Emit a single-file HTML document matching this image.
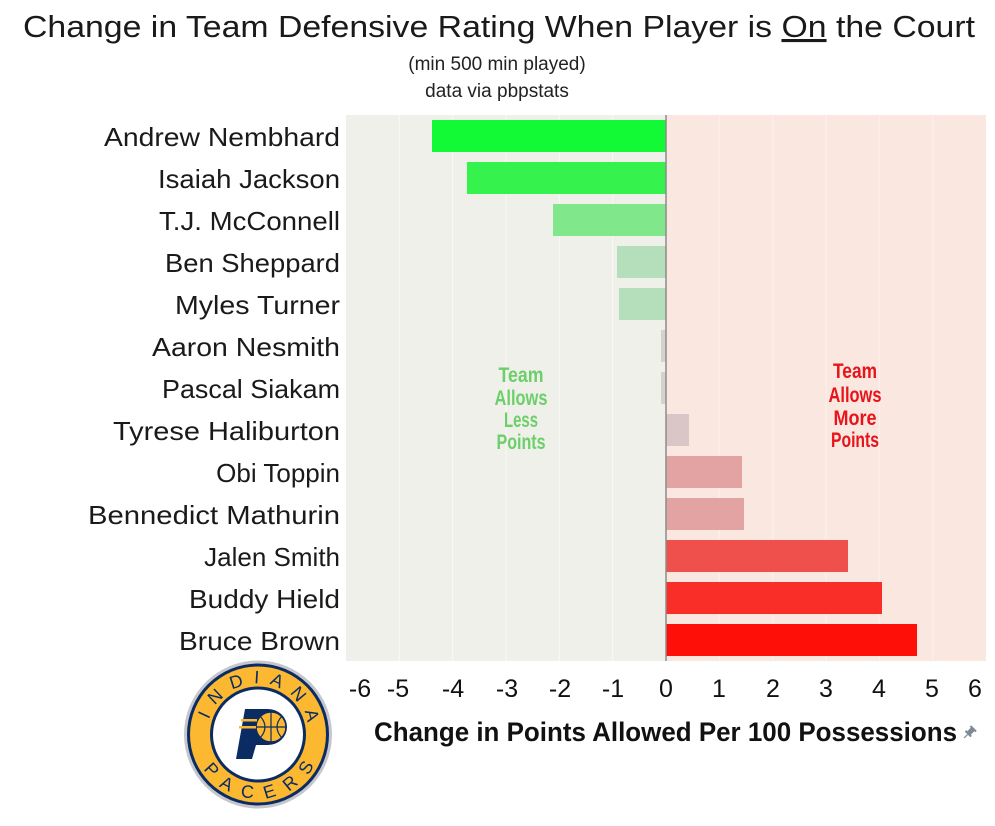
<!DOCTYPE html>
<html><head><meta charset="utf-8"><style>
html,body{margin:0;padding:0;background:#fff;}
svg{display:block;}
text{font-family:"Liberation Sans",sans-serif;}
</style></head><body>
<svg width="995" height="826" viewBox="0 0 995 826" xmlns="http://www.w3.org/2000/svg">
<rect width="995" height="826" fill="#fff"/>
<!-- Title -->
<text x="23" y="37" font-size="31" fill="#1a1a1a" textLength="952" lengthAdjust="spacingAndGlyphs">Change in Team Defensive Rating When Player is <tspan text-decoration="underline">On</tspan> the Court</text>
<text x="497" y="70" font-size="19" fill="#222" text-anchor="middle">(min 500 min played)</text>
<text x="497" y="97" font-size="19" fill="#222" text-anchor="middle">data via pbpstats</text>

<!-- Plot backgrounds -->
<rect x="346" y="115" width="320" height="546" fill="#f0f0ea"/>
<rect x="666" y="115" width="320" height="546" fill="#f9e7e0"/>
<g stroke-width="1.2">
<line x1="399.3" y1="115" x2="399.3" y2="661" stroke="#f7f7f3"/>
<line x1="452.7" y1="115" x2="452.7" y2="661" stroke="#f7f7f3"/>
<line x1="506" y1="115" x2="506" y2="661" stroke="#f7f7f3"/>
<line x1="559.3" y1="115" x2="559.3" y2="661" stroke="#f7f7f3"/>
<line x1="612.7" y1="115" x2="612.7" y2="661" stroke="#f7f7f3"/>
<line x1="719.3" y1="115" x2="719.3" y2="661" stroke="#fcf0eb"/>
<line x1="772.7" y1="115" x2="772.7" y2="661" stroke="#fcf0eb"/>
<line x1="826" y1="115" x2="826" y2="661" stroke="#fcf0eb"/>
<line x1="879.3" y1="115" x2="879.3" y2="661" stroke="#fcf0eb"/>
<line x1="932.7" y1="115" x2="932.7" y2="661" stroke="#fcf0eb"/>
</g>

<!-- Bars -->
<rect x="432" y="120" width="234" height="32" fill="#12f935"/>
<rect x="467" y="162" width="199" height="32" fill="#35f24c"/>
<rect x="553" y="204" width="113" height="32" fill="#80e88a"/>
<rect x="617" y="246" width="49" height="32" fill="#b5dfba"/>
<rect x="619" y="288" width="47" height="32" fill="#b5dfba"/>
<rect x="661" y="330" width="5" height="32" fill="#d2d4cc"/>
<rect x="661" y="372" width="5" height="32" fill="#d2d4cc"/>
<rect x="666" y="414" width="23" height="32" fill="#dac6c6"/>
<rect x="666" y="456" width="76" height="32" fill="#e3a3a2"/>
<rect x="666" y="498" width="78" height="32" fill="#e3a3a2"/>
<rect x="666" y="540" width="182" height="32" fill="#ef504c"/>
<rect x="666" y="582" width="216" height="32" fill="#fa2e28"/>
<rect x="666" y="624" width="251" height="32" fill="#fe1008"/>
<line x1="666" y1="115" x2="666" y2="661" stroke="#8c8c8c" stroke-width="1.5"/>

<!-- Annotations -->
<g font-weight="bold" font-size="21" text-anchor="middle" fill="#6ccf6a">
<text x="521" y="382" textLength="45" lengthAdjust="spacingAndGlyphs">Team</text>
<text x="521" y="405" textLength="53" lengthAdjust="spacingAndGlyphs">Allows</text>
<text x="521" y="427" textLength="34" lengthAdjust="spacingAndGlyphs">Less</text>
<text x="521" y="449" textLength="49" lengthAdjust="spacingAndGlyphs">Points</text>
</g>
<g font-weight="bold" font-size="21" text-anchor="middle" fill="#e8141a">
<text x="855" y="378" textLength="44" lengthAdjust="spacingAndGlyphs">Team</text>
<text x="855" y="402" textLength="53" lengthAdjust="spacingAndGlyphs">Allows</text>
<text x="855" y="425" textLength="43" lengthAdjust="spacingAndGlyphs">More</text>
<text x="855" y="447" textLength="48" lengthAdjust="spacingAndGlyphs">Points</text>
</g>

<!-- Player labels -->
<g font-size="26" fill="#1a1a1a" text-anchor="end">
<text x="340" y="146" textLength="236" lengthAdjust="spacingAndGlyphs">Andrew Nembhard</text>
<text x="340" y="188" textLength="182" lengthAdjust="spacingAndGlyphs">Isaiah Jackson</text>
<text x="340" y="230" textLength="181" lengthAdjust="spacingAndGlyphs">T.J. McConnell</text>
<text x="340" y="272" textLength="175" lengthAdjust="spacingAndGlyphs">Ben Sheppard</text>
<text x="340" y="314" textLength="165" lengthAdjust="spacingAndGlyphs">Myles Turner</text>
<text x="340" y="356" textLength="188" lengthAdjust="spacingAndGlyphs">Aaron Nesmith</text>
<text x="340" y="398" textLength="178" lengthAdjust="spacingAndGlyphs">Pascal Siakam</text>
<text x="340" y="440" textLength="227" lengthAdjust="spacingAndGlyphs">Tyrese Haliburton</text>
<text x="340" y="482">Obi Toppin</text>
<text x="340" y="524" textLength="252" lengthAdjust="spacingAndGlyphs">Bennedict Mathurin</text>
<text x="340" y="566">Jalen Smith</text>
<text x="340" y="608" textLength="151" lengthAdjust="spacingAndGlyphs">Buddy Hield</text>
<text x="340" y="650" textLength="161" lengthAdjust="spacingAndGlyphs">Bruce Brown</text>
</g>

<!-- Tick labels -->
<g font-size="25" fill="#111" text-anchor="middle">
<text x="360" y="697">-6</text>
<text x="398" y="697">-5</text>
<text x="453" y="697">-4</text>
<text x="507" y="697">-3</text>
<text x="560" y="697">-2</text>
<text x="613" y="697">-1</text>
<text x="666" y="697">0</text>
<text x="719" y="697">1</text>
<text x="773" y="697">2</text>
<text x="826" y="697">3</text>
<text x="879" y="697">4</text>
<text x="932" y="697">5</text>
<text x="975" y="697">6</text>
</g>

<!-- Axis title -->
<text x="374" y="741" font-size="27" font-weight="bold" fill="#111" textLength="583" lengthAdjust="spacingAndGlyphs">Change in Points Allowed Per 100 Possessions</text>
<!-- pin icon -->
<g transform="translate(969,733) rotate(45)" fill="#7d8a96">
<rect x="-2.5" y="-6" width="5" height="7"/>
<rect x="-4" y="-7" width="8" height="2"/>
<rect x="-4" y="0" width="8" height="2"/>
<rect x="-0.6" y="2" width="1.2" height="5"/>
</g>

<!-- Pacers logo -->
<defs>
<path id="topArc" d="M 207,734.5 A 51,51 0 0 1 309,734.5"/>
<path id="botArc" d="M 194,734.5 A 64,64 0 0 0 322,734.5"/>
</defs>
<circle cx="258" cy="734.5" r="74" fill="#c6c7cc"/>
<circle cx="258" cy="734.5" r="71" fill="#0b2c63"/>
<circle cx="258" cy="734.5" r="68" fill="#fbb830"/>
<circle cx="258" cy="734.5" r="48" fill="#0b2c63"/>
<circle cx="258" cy="734.5" r="45" fill="#ffffff"/>
<text font-size="18" fill="#0b2c63" font-family="'Liberation Sans Narrow','Liberation Sans',sans-serif"><textPath href="#topArc" startOffset="54%" text-anchor="middle" letter-spacing="10">INDIANA</textPath></text>
<text font-size="18" fill="#0b2c63" font-family="'Liberation Sans Narrow','Liberation Sans',sans-serif"><textPath href="#botArc" startOffset="54%" text-anchor="middle" letter-spacing="12">PACERS</textPath></text>
<path d="M245,709 L268,709 A19,18 0 0 1 268,745 L256,745 L252,759 L236,759 Z" fill="#0b2c63"/>
<circle cx="271" cy="727" r="15" fill="#fbb830" stroke="#0b2c63" stroke-width="1.5"/>
<path d="M256,727 L286,727 M271,712 L271,742 M260,716 Q270,727 260,738 M282,716 Q272,727 282,738" stroke="#0b2c63" stroke-width="1.2" fill="none"/>
<rect x="241" y="719" width="16" height="2.5" fill="#fbb830"/>
<rect x="239" y="726" width="17" height="2.5" fill="#fbb830"/>
</svg>
</body></html>
